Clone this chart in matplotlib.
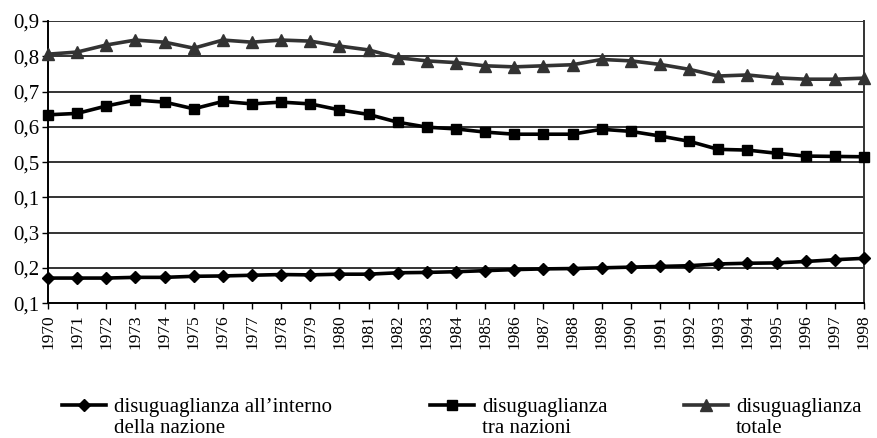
import matplotlib
matplotlib.use("Agg")
import matplotlib.pyplot as plt

plt.rcParams['font.family'] = ['Liberation Serif', 'DejaVu Serif']

years = list(range(1970, 1999))

# disuguaglianza all'interno della nazione
within = [0.171, 0.171, 0.171, 0.173, 0.173, 0.176, 0.177, 0.179, 0.181, 0.180,
          0.182, 0.182, 0.186, 0.187, 0.189, 0.192, 0.195, 0.197, 0.198, 0.200,
          0.202, 0.204, 0.206, 0.211, 0.213, 0.214, 0.218, 0.223, 0.227]

# disuguaglianza tra nazioni
between = [0.634, 0.638, 0.659, 0.676, 0.670, 0.651, 0.672, 0.665, 0.670, 0.665,
           0.648, 0.635, 0.613, 0.599, 0.594, 0.585, 0.579, 0.579, 0.579, 0.593,
           0.587, 0.574, 0.559, 0.536, 0.534, 0.525, 0.517, 0.516, 0.515]

# disuguaglianza totale
total = [0.806, 0.812, 0.832, 0.846, 0.840, 0.823, 0.846, 0.840, 0.846, 0.843,
         0.829, 0.818, 0.796, 0.787, 0.782, 0.773, 0.770, 0.773, 0.776, 0.791,
         0.787, 0.777, 0.763, 0.744, 0.747, 0.739, 0.735, 0.735, 0.738]

labels_first = ["disuguaglianza all\u2019interno", "disuguaglianza", "disuguaglianza"]
labels_second = ["della nazione", "tra nazioni", "totale"]

ytick_pos = [0.1, 0.2, 0.3, 0.4, 0.5, 0.6, 0.7, 0.8, 0.9]
ytick_labels = ['0,1', '0,2', '0,3', '0,1', '0,5', '0,6', '0,7', '0,8', '0,9']

fig = plt.figure(figsize=(8.78, 4.38), dpi=100)
ax = fig.add_axes([0.0547, 0.308, 0.9293, 0.644])

for y in ytick_pos[1:]:
    ax.axhline(y, color='#333333', lw=1.4, zorder=1)

l1, = ax.plot(years, within, color='black', lw=2.6, marker='D', ms=6.5,
              zorder=3, clip_on=False)
l2, = ax.plot(years, between, color='black', lw=2.6, marker='s', ms=7.5,
              zorder=3, clip_on=False)
l3, = ax.plot(years, total, color='#333333', lw=2.6, marker='^', ms=8,
              zorder=3, clip_on=False)

ax.set_xlim(1970, 1998)
ax.set_ylim(0.1, 0.9)
ax.set_xticks(years)
ax.set_xticklabels([str(y) for y in years], rotation=90, fontsize=12.5)
ax.set_yticks(ytick_pos)
ax.set_yticklabels(ytick_labels, fontsize=15)
ax.tick_params(axis='x', direction='out', length=4, width=1, pad=4)
ax.tick_params(axis='y', direction='out', length=4, width=1, pad=2)

ax.spines['top'].set_visible(False)
ax.spines['right'].set_color('#333333')
ax.spines['right'].set_linewidth(1.4)
ax.spines['left'].set_linewidth(1.4)
ax.spines['bottom'].set_linewidth(1.4)

# one legend per entry (first line of the label), second line added below it
legends = []
for line, lab, x0 in zip([l1, l2, l3], labels_first, [0.0706, 0.4897, 0.779]):
    leg = fig.legend([line], [lab], loc='lower left',
                     bbox_to_anchor=(x0, 0.048), frameon=False, fontsize=15,
                     handlelength=2.1, handletextpad=0.4, borderpad=0,
                     borderaxespad=0)
    legends.append(leg)

fig.canvas.draw()
renderer = fig.canvas.get_renderer()
for leg, lab2 in zip(legends, labels_second):
    bb = leg.get_texts()[0].get_window_extent(renderer)
    fx, fy = fig.transFigure.inverted().transform((bb.x0, bb.y0))
    fig.text(fx, fy - 0.004, lab2, fontsize=15, ha='left', va='top')

fig.savefig('out.png', dpi=100)
